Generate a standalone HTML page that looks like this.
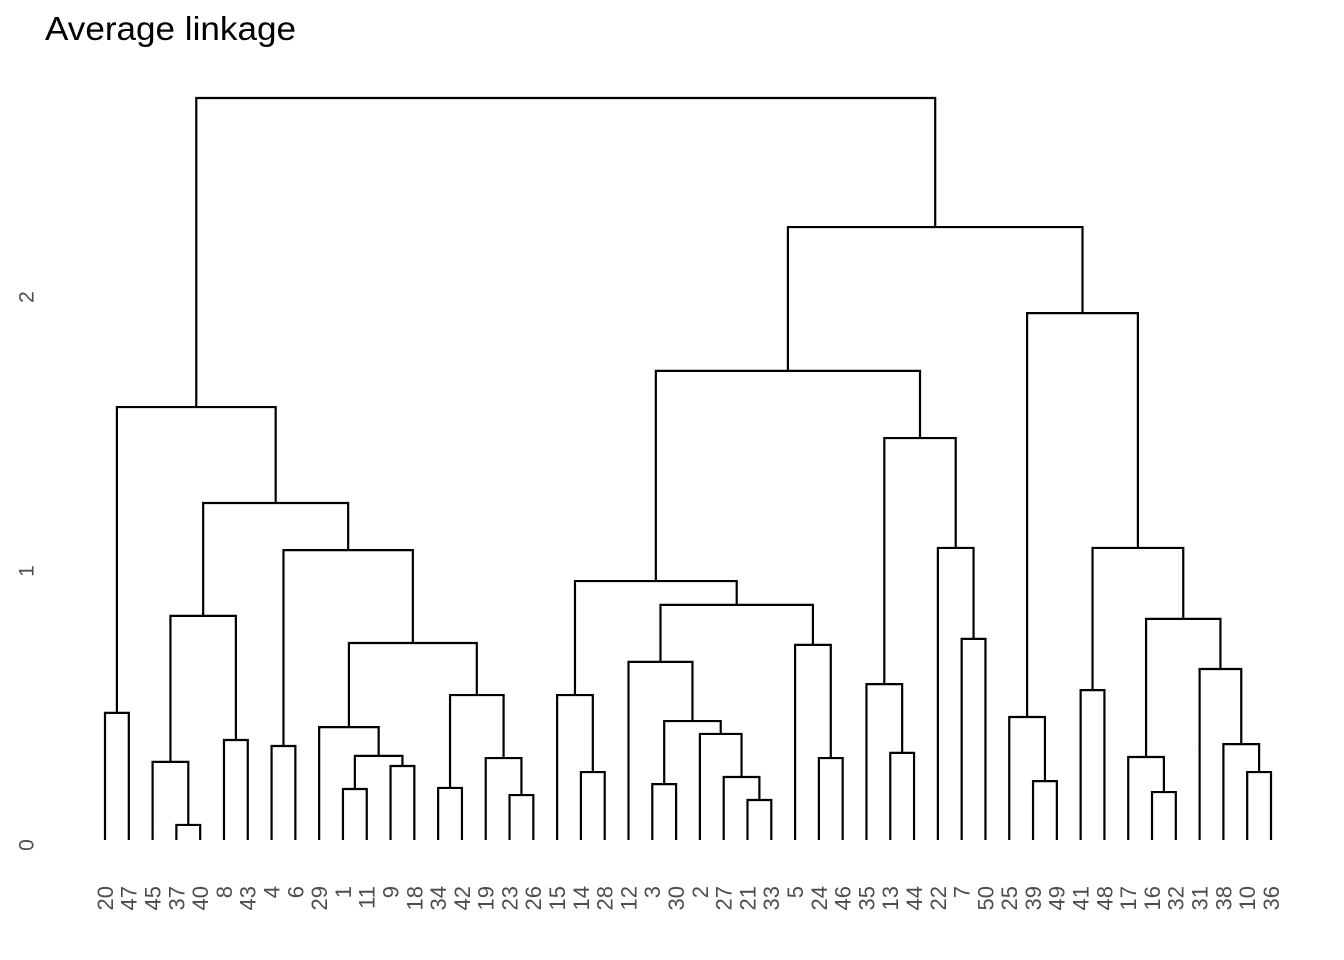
<!DOCTYPE html>
<html><head><meta charset="utf-8"><style>
html,body{margin:0;padding:0;background:#fff;}
svg{display:block;font-family:"Liberation Sans",sans-serif;}
</style></head><body>
<svg id="chart" width="1344" height="960" viewBox="0 0 1344 960">
<text x="45" y="40" font-size="33" textLength="251" lengthAdjust="spacingAndGlyphs" fill="#000">Average linkage</text>
<g id="yaxis"></g>
<g id="links"></g>
<g id="labels"></g>
</svg>
<script>
const leafOrder = ["20","47","45","37","40","8","43","4","6","29","1","11","9","18","34","42","19","23","26","15","14","28","12","3","30","2","27","21","33","5","24","46","35","13","44","22","7","50","25","39","49","41","48","17","16","32","31","38","10","36"];
const mergeA = ["37","45","8","m1","20","4","1","9","m6","29","34","23","19","m10","m9","m5","m3","m4","14","15","3","21","27","2","m20","12","24","5","m25","m19","13","35","7","22","m31","m29","39","25","41","16","17","10","38","31","m40","m38","m37","m35","m17"];
const mergeB = ["40","m0","43","m2","47","6","11","18","m7","m8","42","26","m11","m12","m13","m14","m15","m16","28","m18","30","33","m21","m22","m23","m24","46","m26","m27","m28","44","m30","50","m32","m33","m34","49","m36","48","32","m39","36","m41","m42","m43","m44","m45","m46","m47"];
const heights = [0.055,0.285,0.365,0.818,0.464,0.343,0.186,0.27,0.307,0.412,0.19,0.164,0.299,0.529,0.719,1.058,1.23,1.58,0.248,0.529,0.204,0.146,0.23,0.387,0.434,0.65,0.299,0.712,0.858,0.945,0.318,0.569,0.734,1.066,1.467,1.712,0.215,0.449,0.547,0.175,0.303,0.248,0.35,0.624,0.807,1.066,1.923,2.237,2.708];
const yTicks = [0,1,2];

const NS="http://www.w3.org/2000/svg";
const x0=105, x1=1271, yBase=840, pxPerUnit=274;
const xPos = i => x0 + i*(x1-x0)/(leafOrder.length-1);
const yPos = v => yBase - v*pxPerUnit;

const links=document.getElementById('links');
const labels=document.getElementById('labels');
const yaxis=document.getElementById('yaxis');

function node(id){
  if(id[0]==='m'){const k=+id.slice(1);return {x:mx[k],h:heights[k]};}
  return {x:xPos(leafOrder.indexOf(id)),h:0};
}
const mx=[];
for(let k=0;k<heights.length;k++){
  const a=node(mergeA[k]), b=node(mergeB[k]);
  mx[k]=(a.x+b.x)/2;
  const hy=yPos(heights[k]);
  const p=document.createElementNS(NS,'path');
  p.setAttribute('d',`M${a.x},${yPos(a.h)}V${hy}H${b.x}V${yPos(b.h)}`);
  p.setAttribute('fill','none');p.setAttribute('stroke','#000');p.setAttribute('stroke-width','2.2');
  
  
  links.appendChild(p);
}
leafOrder.forEach((lab,i)=>{
  const t=document.createElementNS(NS,'text');
  const x=xPos(i), y=886;
  t.setAttribute('x',x);t.setAttribute('y',y);
  t.setAttribute('transform',`rotate(-90 ${x} ${y})`);
  t.setAttribute('text-anchor','end');t.setAttribute('dy','0.36em');
  t.setAttribute('font-size','22');t.setAttribute('fill','#4d4d4d');
  t.textContent=lab;
  
  
  labels.appendChild(t);
});
yTicks.forEach(v=>{
  const t=document.createElementNS(NS,'text');
  const x=26, y=yPos(v)+5;
  t.setAttribute('x',x);t.setAttribute('y',y);
  t.setAttribute('transform',`rotate(-90 ${x} ${y})`);
  t.setAttribute('text-anchor','middle');t.setAttribute('dy','0.36em');
  t.setAttribute('font-size','21');t.setAttribute('fill','#4d4d4d');
  t.textContent=v;
  
  
  yaxis.appendChild(t);
});
</script>
</body></html>
